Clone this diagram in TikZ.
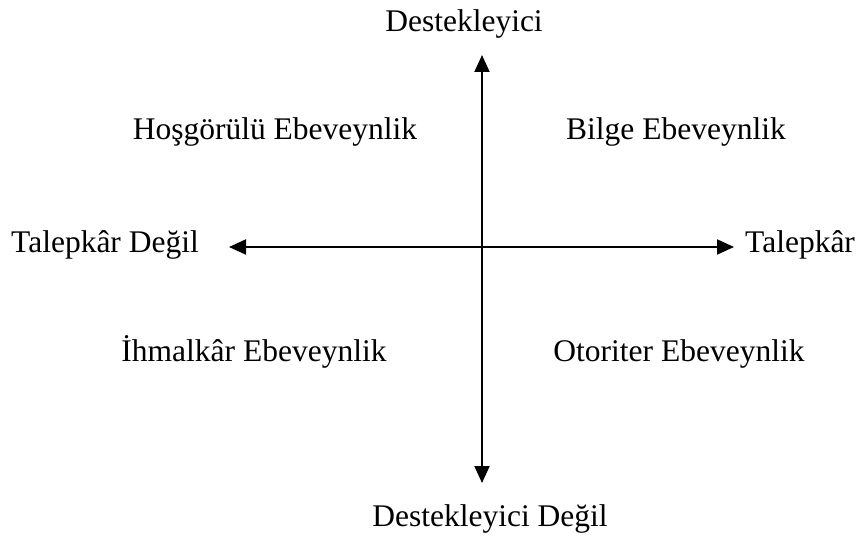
\documentclass[tikz,border=0pt]{standalone}
\usepackage{fontspec}
\setmainfont{Liberation Serif}
\usetikzlibrary{arrows.meta}
\begin{document}
\begin{tikzpicture}[x=1pt,y=-1pt,
  lbl/.style={anchor=base,inner sep=0pt,font=\fontsize{31.5}{36}\selectfont},
  axis/.style={line width=2pt,{Triangle[length=17pt,width=15pt]}-{Triangle[length=17pt,width=15pt]}}]
\useasboundingbox (0,0) rectangle (857,537);
\coordinate (top) at (482,55);
\coordinate (bot) at (482,483);
\coordinate (lft) at (229,247);
\coordinate (rgt) at (734,247);
\draw[axis] (bot) -- (top);
\draw[axis] (lft) -- (rgt);
\node[lbl] (n1) at (464,32) {Destekleyici};
\node[lbl] (n2) at (490,526) {Destekleyici Değil};
\node[lbl,anchor=base west] (n3) at (11,253) {Talepkâr Değil};
\node[lbl,anchor=base west] (n4) at (745,253) {Talepkâr};
\node[lbl] (n5) at (275,140) {Hoşgörülü Ebeveynlik};
\node[lbl] (n6) at (676,140) {Bilge Ebeveynlik};
\node[lbl] (n7) at (254,362) {İhmalkâr Ebeveynlik};
\node[lbl] (n8) at (679,362) {Otoriter Ebeveynlik};
\end{tikzpicture}
\end{document}
